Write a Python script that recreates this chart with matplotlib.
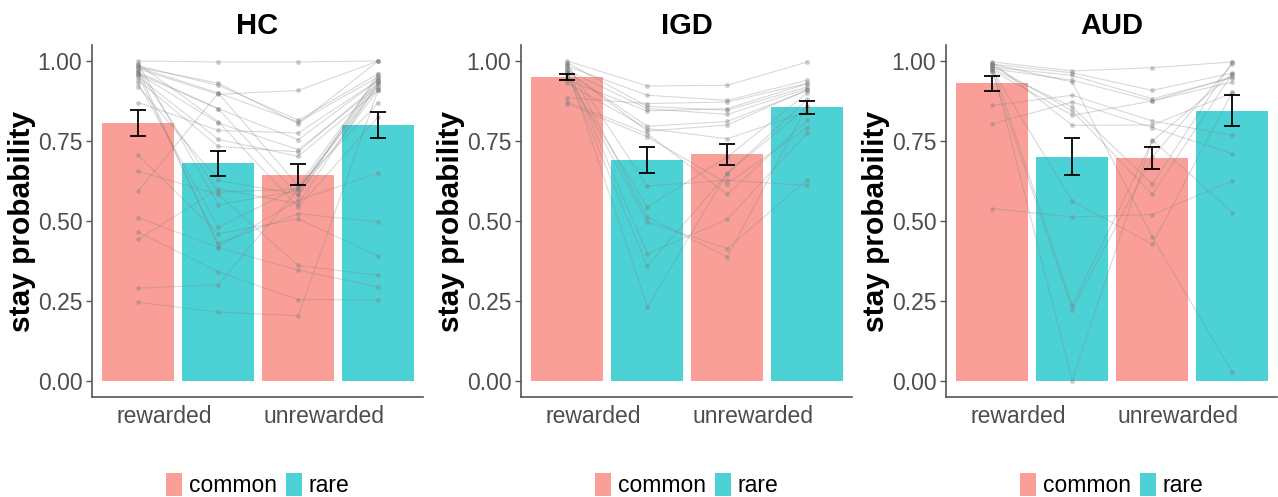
import matplotlib
matplotlib.use("Agg")
import matplotlib.pyplot as plt
from matplotlib.patches import Patch
import numpy as np

plt.rcParams['font.family'] = ['Liberation Sans', 'DejaVu Sans']

# conditions: rewarded common, rewarded rare, unrewarded common, unrewarded rare
groups = ["HC", "IGD", "AUD"]
x_labels = ["rewarded", "unrewarded"]
trans = ["common", "rare", "common", "rare"]

# group means and standard errors
hc_means = [0.807, 0.680, 0.645, 0.800]
hc_err = [0.041, 0.038, 0.034, 0.042]
igd_means = [0.951, 0.690, 0.708, 0.855]
igd_err = [0.009, 0.041, 0.032, 0.020]
aud_means = [0.930, 0.701, 0.697, 0.845]
aud_err = [0.023, 0.057, 0.035, 0.048]

# individual subjects
hc_rc = [1.00, 0.99, 0.985, 0.98, 0.975, 0.97, 0.965, 0.96, 0.955, 0.95, 0.94, 0.93, 0.92,
         0.87, 0.98, 0.99, 0.705, 0.655, 0.594, 0.51, 0.465, 0.443, 0.29, 0.246, 0.96, 0.97]
hc_rr = [0.997, 0.55, 0.924, 0.90, 0.896, 0.42, 0.851, 0.806, 0.43, 0.755, 0.733, 0.48, 0.627,
         0.783, 0.931, 0.81, 0.46, 0.583, 0.90, 0.417, 0.341, 0.60, 0.301, 0.215, 0.85, 0.59]
hc_uc = [0.997, 0.596, 0.815, 0.809, 0.908, 0.565, 0.754, 0.723, 0.523, 0.702, 0.716, 0.606, 0.583,
         0.775, 0.804, 0.544, 0.507, 0.361, 0.61, 0.346, 0.254, 0.554, 0.60, 0.204, 0.58, 0.60]
hc_ur = [1.00, 0.93, 0.96, 0.95, 1.00, 0.65, 0.94, 0.92, 0.497, 0.91, 0.93, 0.87, 0.91,
         0.94, 1.00, 0.825, 0.39, 0.33, 0.95, 0.294, 0.254, 0.93, 0.92, 0.91, 0.96, 0.94]

igd_rc = [1.0, 0.994, 0.99, 0.983, 0.976, 0.971, 0.966, 0.96, 0.94, 0.93, 0.885, 0.872, 0.866,
          0.98, 0.97, 0.99, 0.96, 0.95]
igd_rr = [0.922, 0.858, 0.609, 0.893, 0.231, 0.851, 0.796, 0.497, 0.844, 0.789, 0.867, 0.773,
          0.763, 0.398, 0.781, 0.5125, 0.359, 0.544]
igd_uc = [0.924, 0.846, 0.627, 0.877, 0.65, 0.833, 0.811, 0.414, 0.851, 0.757, 0.872, 0.583,
          0.617, 0.505, 0.80, 0.3875, 0.648, 0.70]
igd_ur = [0.997, 0.919, 0.611, 0.94, 0.856, 0.914, 0.908, 0.629, 0.929, 0.841, 0.93, 0.815,
          0.792, 0.775, 0.91, 0.86, 0.88, 0.90]

aud_rc = [0.997, 0.99, 0.986, 0.981, 0.976, 0.971, 0.861, 0.804, 0.539, 0.98, 0.99, 0.975,
          0.985, 0.97, 0.995, 0.965]
aud_rr = [0.969, 0.963, 0.236, 0.955, 0.940, 0.5625, 0.893, 0.872, 0.5125, 0.0, 0.934, 0.856,
          0.844, 0.830, 0.799, 0.223]
aud_uc = [0.979, 0.908, 0.75, 0.882, 0.875, 0.427, 0.8125, 0.792, 0.52, 0.754, 0.45, 0.615,
          0.583, 0.875, 0.80, 0.70]
aud_ur = [0.997, 0.9625, 0.96, 0.948, 0.934, 0.903, 0.768, 0.71, 0.625, 0.526, 0.028, 0.997,
          0.96, 0.95, 0.90, 0.99]

colors = {"common": "#F8766D", "rare": "#00BFC4"}
pos = [0.75, 1.25, 1.75, 2.25]


def panel(ax, title, means, err, subjects):
    for p, m, t in zip(pos, means, trans):
        ax.bar(p, m, width=0.45, color=colors[t], alpha=0.7, zorder=1)
    subj = np.array(subjects).T
    for row in subj:
        ax.plot(pos, row, color="grey", alpha=0.3, lw=0.8, zorder=2)
        ax.scatter(pos, row, s=12, color="grey", alpha=0.4, lw=0, zorder=3)
    ax.errorbar(pos, means, yerr=err, fmt="none", ecolor="black", elinewidth=1.3,
                capsize=6, capthick=1.3, zorder=4)
    ax.set_xlim(0.46, 2.53)
    ax.set_ylim(-0.05, 1.05)
    ax.set_yticks([0, 0.25, 0.5, 0.75, 1.0])
    ax.set_yticklabels(["0.00", "0.25", "0.50", "0.75", "1.00"])
    ax.set_xticks([0.91, 1.91])
    ax.set_xticklabels(x_labels)
    ax.tick_params(axis="x", length=0, pad=6, labelsize=16.5, labelcolor="#4D4D4D")
    ax.tick_params(axis="y", length=4, width=1, color="#555555", pad=3, labelsize=16.5,
                   labelcolor="#4D4D4D")
    for s in ["top", "right"]:
        ax.spines[s].set_visible(False)
    for s in ["left", "bottom"]:
        ax.spines[s].set_color("#555555")
        ax.spines[s].set_linewidth(1.2)
    ax.set_title(title, fontsize=21, fontweight="bold", pad=8)
    ax.set_ylabel("stay probability", fontsize=21.5, fontweight="bold", labelpad=1)
    handles = [Patch(facecolor=colors["common"], alpha=0.7, label="common"),
               Patch(facecolor=colors["rare"], alpha=0.7, label="rare")]
    ax.legend(handles=handles, loc="center", bbox_to_anchor=(0.5, -0.25), ncol=2,
              frameon=False, fontsize=16.5, handlelength=0.7, handleheight=1.2,
              handletextpad=0.3, columnspacing=0.4)


fig = plt.figure(figsize=(12.78, 4.97), dpi=100)
lefts = [92, 521, 946]
data = [(hc_means, hc_err, [hc_rc, hc_rr, hc_uc, hc_ur]),
        (igd_means, igd_err, [igd_rc, igd_rr, igd_uc, igd_ur]),
        (aud_means, aud_err, [aud_rc, aud_rr, aud_uc, aud_ur])]
for g, l, (m, e, s) in zip(groups, lefts, data):
    ax = fig.add_axes([l / 1278, 100 / 497, 331 / 1278, 352 / 497])
    panel(ax, g, m, e, s)

fig.savefig("out.png", dpi=100)
